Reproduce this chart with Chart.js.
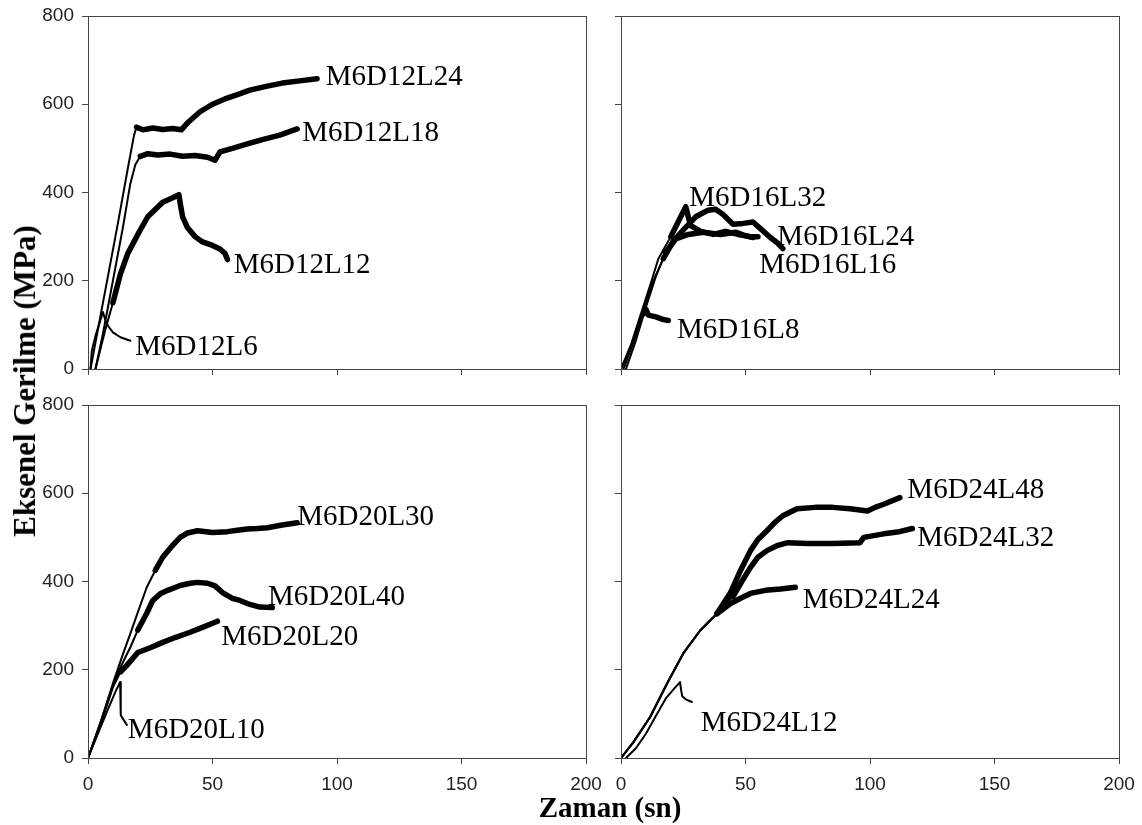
<!DOCTYPE html>
<html>
<head>
<meta charset="utf-8">
<script src="https://cdn.jsdelivr.net/npm/chart.js@4.4.0/dist/chart.umd.min.js"></script>
<style>
  body { margin: 0; background: #fff; width: 1142px; height: 825px; position: relative; overflow: hidden; }
  canvas { position: absolute; }
  .ytitle { position: absolute; left: 25px; top: 381px; transform: translate(-50%, -50%) rotate(-90deg);
            font: bold 31px "Liberation Serif"; white-space: nowrap; color: #000; }
  .xtitle { position: absolute; left: 610px; top: 807px; transform: translate(-50%, -50%);
            font: bold 29px "Liberation Serif"; white-space: nowrap; color: #000; }
</style>
</head>
<body>
<canvas id="c1" width="578" height="375" style="left:28px;top:2px"></canvas>
<canvas id="c2" width="526" height="375" style="left:613px;top:2px"></canvas>
<canvas id="c3" width="578" height="407" style="left:28px;top:391px"></canvas>
<canvas id="c4" width="526" height="407" style="left:613px;top:391px"></canvas>
<div class="ytitle">Eksenel Gerilme (MPa)</div>
<div class="xtitle">Zaman (sn)</div>
<script>
// eksen degerleri
const xTicks = [0, 50, 100, 150, 200];
const yTicks = [0, 200, 400, 600, 800];

// [zaman (sn), gerilme (MPa)] - okunan degerler
// D12
const M6D12L24 = [[1,0],[4,90],[8,210],[12,330],[16,455],[18.5,530],[19.5,548],[22,542],[26,546],[30,543],[34,545],[37.5,542],[40,558],[45,583],[50,600],[55,612],[60,622],[65,632],[72,641],[78,648],[85,653],[92,658]];
const M6D12L18 = [[3,0],[6,80],[10,200],[14,320],[17,420],[19,463],[21,482],[24,488],[28,485],[33,487],[38,482],[43,484],[48,480],[51,473],[53,492],[58,500],[64,510],[70,520],[77,530],[84,544]];
const M6D12L12 = [[3,0],[7,90],[10,150],[13,215],[16,262],[20,305],[24,345],[30,378],[34,388],[36.5,395],[37.2,370],[38,345],[40,320],[43,300],[46,288],[50,280],[53,272],[55,262],[56,248]];
const M6D12L6 = [[1,0],[1.5,40],[3,75],[6,129],[7,110],[8,98],[10,83],[13,72],[17,64]];
// D16
const M6D16L32 = [[0,0],[4,55],[8,125],[12,195],[15,250],[20,300],[24,345],[26,368],[27,345],[28,325],[32,312],[37,305],[42,312],[47,305],[52,300],[55,300]];
const M6D16L24 = [[1,0],[5,60],[9,135],[13,200],[17,250],[21,290],[25,315],[30,345],[35,360],[38,362],[41,350],[45,328],[49,330],[53,333],[56,318],[60,298],[63,285],[65,273]];
const M6D16L16 = [[2,0],[6,65],[10,140],[14,210],[18,265],[22,295],[27,305],[33,310],[40,305],[46,310],[50,302],[53,298]];
const M6D16L8 = [[0,0],[3,35],[6,80],[9,125],[10,135],[11,122],[14,118],[17,112],[19,110]];
// D20
const M6D20L30 = [[0,0],[5,80],[10,169],[14,235],[17,282],[20,330],[23.6,387],[27,425],[30,455],[34,482],[37,500],[40,510],[44,515],[50,511],[56,513],[60,516],[64,519],[68,520],[72,522],[78,528],[84,533]];
const M6D20L40 = [[0,0],[5,80],[10,165],[13,205],[17,251],[20,290],[23.6,328],[26,357],[29,372],[32,380],[37,391],[41,396],[44,398],[48,396],[51,390],[54,375],[58,362],[61,357],[65,348],[69,342],[74,341]];
const M6D20L20 = [[0,0],[5,75],[10,160],[13,195],[15.6,210],[20,239],[25,250],[30,262],[35,273],[41,285],[46,296],[52,310]];
const M6D20L10 = [[0,0],[4,55],[8,110],[11,150],[12.9,172],[13.1,120],[13.2,97],[15.6,75]];
// D24
const M6D24L48 = [[0,0],[5,36],[11.7,93],[18.5,169],[25,237],[31.8,289],[38.5,327],[44,375],[48,425],[52,470],[55,495],[58.6,515],[62,535],[65,549],[70.7,565],[78,568],[85,568],[92,565],[99,560],[102,568],[105.5,575],[112,590]];
const M6D24L32 = [[0,0],[5,36],[11.7,93],[18.5,169],[25,237],[31.8,289],[38.5,327],[45,366],[48.5,400],[52,432],[55,455],[58.6,470],[63,482],[67,488],[75,486],[85,486],[96,488],[97.5,500],[105.5,508],[111,512],[117,520]];
const M6D24L24 = [[0,0],[5,36],[11.7,93],[18.5,169],[25,237],[31.8,289],[38.5,327],[44,350],[48,362],[52,373],[58,380],[64,383],[70,387]];
const M6D24L12 = [[2,0],[6,22],[10,55],[14,95],[18,135],[21,155],[23.7,172],[24.2,152],[24.6,140],[26,133],[28.5,127]];

// etiket konumlari (veri koordinatinda) ve kalin cizgi baslangici
const panels = [
  { id: 'c1', yLabels: true, xLabels: false, series: [
    { name: 'M6D12L24', data: M6D12L24, at: [95.5, 662], thickFrom: 19 },
    { name: 'M6D12L18', data: M6D12L18, at: [86, 535], thickFrom: 20 },
    { name: 'M6D12L12', data: M6D12L12, at: [58.5, 235], thickFrom: 10 },
    { name: 'M6D12L6', data: M6D12L6, at: [19, 50], thickFrom: 99 } ] },
  { id: 'c2', yLabels: false, xLabels: false, series: [
    { name: 'M6D16L32', data: M6D16L32, at: [27.4, 386], thickFrom: 20 },
    { name: 'M6D16L24', data: M6D16L24, at: [62.8, 298], thickFrom: 17 },
    { name: 'M6D16L16', data: M6D16L16, at: [55.5, 235], thickFrom: 18 },
    { name: 'M6D16L8', data: M6D16L8, at: [22.5, 88], thickFrom: 9 } ] },
  { id: 'c3', yLabels: true, xLabels: true, series: [
    { name: 'M6D20L30', data: M6D20L30, at: [84, 545], thickFrom: 25 },
    { name: 'M6D20L40', data: M6D20L40, at: [72.3, 364], thickFrom: 20 },
    { name: 'M6D20L20', data: M6D20L20, at: [53.5, 273], thickFrom: 13 },
    { name: 'M6D20L10', data: M6D20L10, at: [16, 63], thickFrom: 99 } ] },
  { id: 'c4', yLabels: false, xLabels: true, series: [
    { name: 'M6D24L48', data: M6D24L48, at: [115, 606], thickFrom: 38 },
    { name: 'M6D24L32', data: M6D24L32, at: [119, 497], thickFrom: 45 },
    { name: 'M6D24L24', data: M6D24L24, at: [73, 357], thickFrom: 38 },
    { name: 'M6D24L12', data: M6D24L12, at: [32, 79], thickFrom: 99 } ] }
];

Chart.defaults.font.family = '"Liberation Sans", Arial, sans-serif';
Chart.defaults.font.size = 19;
Chart.defaults.color = '#222';

// cerceve
const framePlugin = {
  id: 'frame',
  afterDraw(chart) {
    const a = chart.chartArea, ctx = chart.ctx;
    ctx.save();
    ctx.strokeStyle = '#444';
    ctx.lineWidth = 1;
    ctx.strokeRect(Math.round(a.left) + 0.5, Math.round(a.top) + 0.5, Math.round(a.right - a.left), Math.round(a.bottom - a.top));
    ctx.restore();
  }
};

// egri etiketleri
const labelPlugin = {
  id: 'curveLabels',
  afterDatasetsDraw(chart) {
    const { ctx, scales: { x, y } } = chart;
    ctx.save();
    ctx.font = '29px "Liberation Serif"';
    ctx.fillStyle = '#000';
    ctx.textBaseline = 'middle';
    chart.data.datasets.forEach(ds => {
      ctx.fillText(ds.label, x.getPixelForValue(ds.labelAt[0]), y.getPixelForValue(ds.labelAt[1]));
    });
    ctx.restore();
  }
};

panels.forEach(p => {
  new Chart(document.getElementById(p.id), {
    type: 'scatter',
    data: {
      datasets: p.series.map(s => ({
        label: s.name,
        data: s.data,
        labelAt: s.at,
        showLine: true,
        pointRadius: 0,
        borderColor: '#000',
        borderWidth: 2,
        borderJoinStyle: 'round',
        borderCapStyle: 'round',
        segment: {
          borderWidth: ctx => ctx.p0.parsed.x >= s.thickFrom ? 5.5 : 2
        }
      }))
    },
    options: {
      responsive: false,
      animation: false,
      layout: { padding: { top: 14, right: 20, left: 0, bottom: 0 } },
      plugins: { legend: { display: false }, tooltip: { enabled: false } },
      scales: {
        x: {
          type: 'linear', min: 0, max: 200,
          afterBuildTicks: sc => { sc.ticks = xTicks.map(v => ({ value: v })); },
          afterFit: sc => { sc.height = p.xLabels ? 40 : 8; sc.paddingLeft = 0; sc.paddingRight = 0; },
          grid: { drawOnChartArea: false, drawTicks: true, tickLength: 6, color: '#444' },
          border: { display: false },
          ticks: { display: p.xLabels, padding: 9, maxRotation: 0 }
        },
        y: {
          type: 'linear', min: 0, max: 800,
          afterBuildTicks: sc => { sc.ticks = yTicks.map(v => ({ value: v })); },
          afterFit: sc => { sc.width = p.yLabels ? 60 : 8; sc.paddingTop = 0; sc.paddingBottom = 0; },
          grid: { drawOnChartArea: false, drawTicks: true, tickLength: 6, color: '#444' },
          border: { display: false },
          ticks: { display: p.yLabels, padding: 8 }
        }
      }
    },
    plugins: [framePlugin, labelPlugin]
  });
});
</script>
</body>
</html>
